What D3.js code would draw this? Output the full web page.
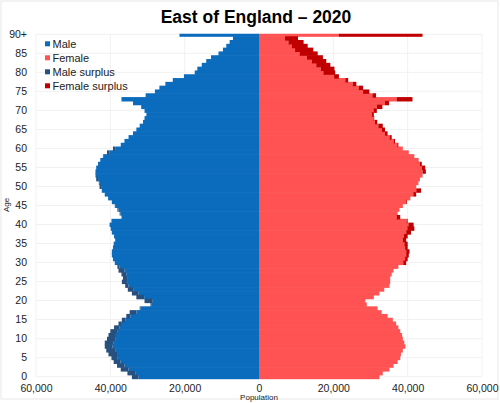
<!DOCTYPE html>
<html>
<head>
<meta charset="utf-8">
<script src="https://cdn.jsdelivr.net/npm/d3@7/dist/d3.min.js"></script>
<style>
  html, body { margin: 0; padding: 0; background: #fff; }
  svg { display: block; font-family: "Liberation Sans", Arial, sans-serif; }
</style>
</head>
<body>
<svg id="chart" width="500" height="403"></svg>
<script>
// ---- data (ages 0..90+) ----
const ages = d3.range(0, 91);
const ageTicks = d3.range(0, 91, 5);
const ageTickLabels = ["0","5","10","15","20","25","30","35","40","45","50","55","60","65","70","75","80","85","90+"];
const popTicks = [-60000, -40000, -20000, 0, 20000, 40000, 60000];
const male = [
  34200, 35400, 37200, 38200, 39100, 39700, 40500, 41100, 41500, 41500,
  40900, 40500, 40000, 39000, 37800, 36900, 35700, 34800, 32100, 29200,
  30800, 33000, 34200, 35300, 36000, 36900, 36600, 37000, 37800, 38100,
  38800, 39300, 39600, 39600, 39300, 39100, 38700, 39000, 39600, 39900,
  40200, 39700, 37000, 37500, 38100, 38800, 39600, 40600, 41500, 42300,
  42900, 43100, 43800, 44000, 44000, 43800, 43300, 42700, 42000, 40900,
  39300, 37200, 36200, 35100, 33900, 33000, 32100, 31200, 30800, 30300,
  30800, 31700, 33900, 37000, 30500, 28000, 26800, 25200, 23200, 20200,
  17300, 16600, 15400, 14200, 12900, 10900, 9700, 8800, 7900, 7000,
  21400
];
const female = [
  32400, 33300, 35100, 36200, 37300, 38000, 38200, 38700, 39400, 39100,
  38700, 38500, 38000, 37500, 36900, 36000, 34600, 33000, 31900, 29000,
  28600, 30900, 32400, 33700, 35100, 35300, 35300, 35700, 36200, 37500,
  39600, 40000, 40300, 40500, 40000, 40000, 39600, 40000, 40900, 41800,
  41600, 40000, 38000, 37300, 37800, 38700, 39800, 40700, 42300, 43600,
  42300, 42900, 43300, 44000, 44900, 44700, 43800, 42900, 41800, 40300,
  38700, 37500, 36600, 35700, 34600, 33900, 33300, 31800, 31000, 30900,
  31700, 33200, 35000, 41300, 31500, 29700, 28000, 26200, 24000, 21500,
  20500, 20300, 19200, 18100, 17200, 15800, 14600, 13100, 12000, 10500,
  44000
];
const legendLabels = ["Male", "Female", "Male surplus", "Female surplus"];
const colors = { male: "#0b6cbd", female: "#ff5252", maleSurplus: "#27507e", femaleSurplus: "#c00000" };

// ---- layout ----
const svg = d3.select("#chart");
const x = d3.scaleLinear().domain([-60000, 60000]).range([36, 482]);
const y = d3.scaleLinear().domain([0, 90]).range([376.7, 34.3]);
const band = y(0) - y(1);

// frame
svg.append("rect").attr("x", 1).attr("y", 1).attr("width", 497).attr("height", 398)
  .attr("fill", "#fff").attr("stroke", "#e8e8e8");

// faint grid
const grid = svg.append("g").attr("stroke", "#f1f1f1").attr("stroke-width", 1);
grid.selectAll("line.v").data(popTicks).join("line")
  .attr("x1", d => x(d)).attr("x2", d => x(d)).attr("y1", y(90)).attr("y2", y(0));
grid.selectAll("line.h").data(ageTicks).join("line")
  .attr("y1", d => y(d)).attr("y2", d => y(d)).attr("x1", x(-60000)).attr("x2", x(60000));

// clip
svg.append("defs").append("clipPath").attr("id", "plotclip")
  .append("rect").attr("x", 0).attr("y", 33.8).attr("width", 500).attr("height", 360);

const bars = svg.append("g").attr("clip-path", "url(#plotclip)");
const rows = ages.map((a, i) => ({ a, m: male[i], f: female[i] }));

const rectY = d => y(d.a + 0.5);
const bh = band + 0.6;
// male base
bars.selectAll("rect.mb").data(rows).join("rect")
  .attr("x", d => x(-Math.min(d.m, d.f))).attr("width", d => x(0) - x(-Math.min(d.m, d.f)))
  .attr("y", rectY).attr("height", bh).attr("fill", colors.male);
// male surplus
bars.selectAll("rect.ms").data(rows.filter(d => d.m > d.f)).join("rect")
  .attr("x", d => x(-d.m)).attr("width", d => x(-d.f) - x(-d.m))
  .attr("y", rectY).attr("height", bh).attr("fill", colors.maleSurplus);
// female base
bars.selectAll("rect.fb").data(rows).join("rect")
  .attr("x", x(0)).attr("width", d => x(Math.min(d.m, d.f)) - x(0))
  .attr("y", rectY).attr("height", bh).attr("fill", colors.female);
// female surplus
bars.selectAll("rect.fs").data(rows.filter(d => d.f > d.m)).join("rect")
  .attr("x", d => x(d.m)).attr("width", d => x(d.f) - x(d.m))
  .attr("y", rectY).attr("height", bh).attr("fill", colors.femaleSurplus);

// axes
const xAxis = svg.append("g").attr("transform", `translate(0,${y(0)})`)
  .call(d3.axisBottom(x).tickValues(popTicks).tickSize(0).tickPadding(7.5)
    .tickFormat(d => d3.format(",")(Math.abs(d))));
xAxis.select(".domain").remove();
xAxis.selectAll("text").attr("font-size", 10.5).attr("fill", "#222")
  .attr("font-family", "'Liberation Sans', Arial, sans-serif");

const yAxis = svg.append("g").attr("transform", `translate(${x(-60000)},0)`)
  .call(d3.axisLeft(y).tickValues(ageTicks).tickSize(0).tickPadding(9)
    .tickFormat((d, i) => ageTickLabels[i]));
yAxis.select(".domain").remove();
yAxis.selectAll("text").attr("font-size", 10.5).attr("fill", "#222").attr("dy", "0.28em")
  .attr("font-family", "'Liberation Sans', Arial, sans-serif");

// axis titles
svg.append("text").attr("x", 259).attr("y", 399.5).attr("text-anchor", "middle")
  .attr("font-size", 8).attr("fill", "#222").text("Population");
svg.append("text").attr("transform", "translate(9,205) rotate(-90)").attr("text-anchor", "middle")
  .attr("font-size", 8).attr("fill", "#222").text("Age");

// title
svg.append("text").attr("x", 256).attr("y", 23).attr("text-anchor", "middle")
  .attr("font-size", 17.5).attr("font-weight", "bold").attr("fill", "#000")
  .text("East of England \u2013 2020");

// legend
const legColors = [colors.male, colors.female, colors.maleSurplus, colors.femaleSurplus];
const leg = svg.append("g");
leg.selectAll("rect").data(legendLabels).join("rect")
  .attr("x", 45).attr("y", (d, i) => 41.3 + i * 14).attr("width", 5).attr("height", 5)
  .attr("fill", (d, i) => legColors[i]);
leg.selectAll("text").data(legendLabels).join("text")
  .attr("x", 52.5).attr("y", (d, i) => 43.8 + i * 14).attr("dy", "0.35em")
  .attr("font-size", 11).attr("fill", "#222").text(d => d);
</script>
</body>
</html>
